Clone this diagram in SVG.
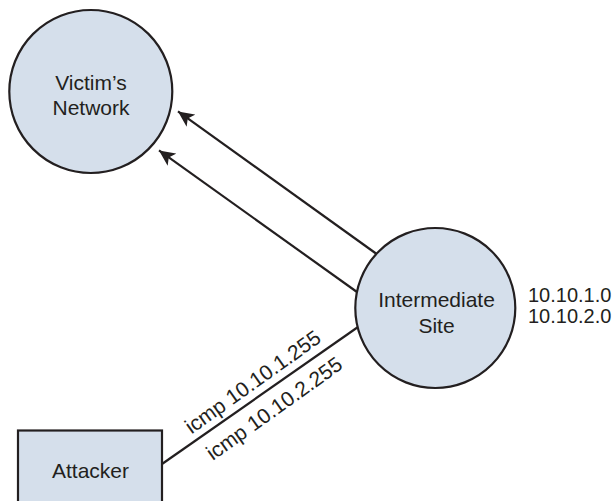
<svg xmlns="http://www.w3.org/2000/svg" width="616" height="501" viewBox="0 0 616 501">
<style>
.node{fill:#d5dfeb;stroke:#231f20;stroke-width:2.2}
.lbl{font-family:"Liberation Sans",Arial,sans-serif;font-size:21px;fill:#231f20;text-anchor:middle}
.txt{font-family:"Liberation Sans",Arial,sans-serif;font-size:20px;fill:#231f20}
.rot{font-family:"Liberation Sans",Arial,sans-serif;font-size:21px;fill:#231f20;text-anchor:middle}
.edge{stroke:#231f20;stroke-width:2.2;fill:none}
</style>
<defs>
<marker id="arr" markerUnits="userSpaceOnUse" viewBox="0 -8 17 16" refX="16" refY="0" markerWidth="17" markerHeight="16" orient="auto">
<path d="M0,-7.5 L16,0 L0,7.5 L4,0 Z" fill="#231f20"/>
</marker>
</defs>
<rect width="616" height="501" fill="#ffffff"/>
<g id="connectors">
<line class="edge" x1="376.7" y1="254" x2="178" y2="111.4" marker-end="url(#arr)"/>
<line class="edge" x1="357" y1="292" x2="159" y2="150.4" marker-end="url(#arr)"/>
<line class="edge" x1="162" y1="464" x2="358" y2="327"/>
<g transform="translate(260,395.5) rotate(-35.5)">
<text class="rot" x="2" y="-8">icmp 10.10.1.255</text>
<text class="rot" x="4" y="26">icmp 10.10.2.255</text>
</g>
</g>
<g id="victim">
<circle class="node" cx="90.8" cy="91.5" r="81.5"/>
<text class="lbl" x="91" y="90">Victim’s</text>
<text class="lbl" x="91" y="115">Network</text>
</g>
<g id="intermediate">
<circle class="node" cx="435.3" cy="308" r="80"/>
<text class="lbl" x="436.5" y="307">Intermediate</text>
<text class="lbl" x="436.5" y="333">Site</text>
<text class="txt" x="528" y="302">10.10.1.0</text>
<text class="txt" x="528" y="323">10.10.2.0</text>
</g>
<g id="attacker">
<rect class="node" x="18" y="430.5" width="144" height="90"/>
<text class="lbl" x="90.5" y="478">Attacker</text>
</g>
</svg>
